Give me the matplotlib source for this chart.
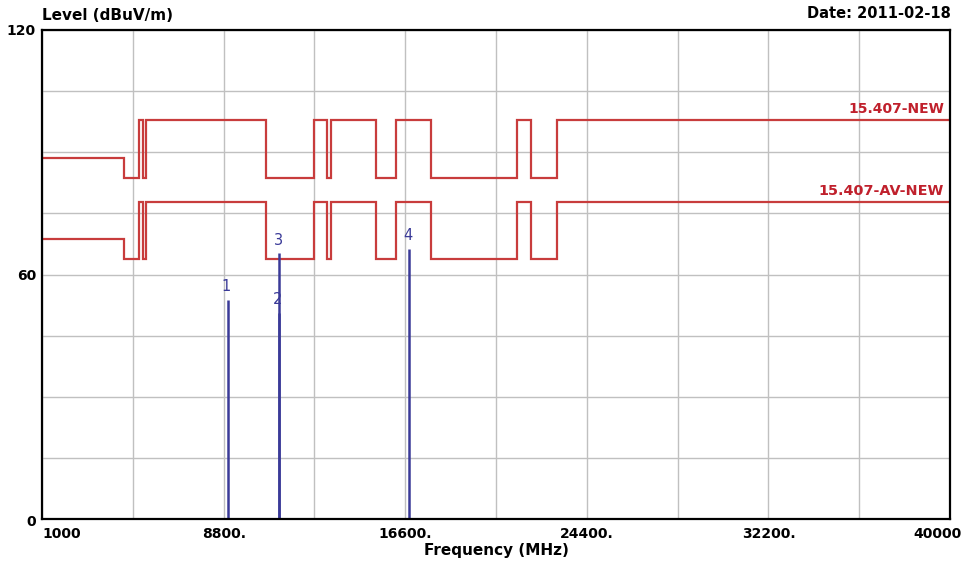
import numpy as np
import matplotlib
matplotlib.use("Agg")
import matplotlib.pyplot as plt
from matplotlib.transforms import blended_transform_factory

# limit line break points (MHz) and levels (dBuV/m), one level per segment
limit_edges = [1000, 4500, 5150, 5350, 5460, 10600, 12700, 13250, 13400,
               15350, 16200, 17700, 21400, 22010, 23120, 40000]
peak_levels = [88.7, 83.8, 97.9, 83.8, 97.9, 83.8, 97.9, 83.8, 97.9,
               83.8, 97.9, 83.8, 97.9, 83.8, 97.9]
avg_levels = [68.7, 63.8, 77.9, 63.8, 77.9, 63.8, 77.9, 63.8, 77.9,
              63.8, 77.9, 63.8, 77.9, 63.8, 77.9]

# measured emissions
marker_ids = ["1", "2", "3", "4"]
marker_freq = [8967, 11180, 11180, 16763]
marker_level = [53.9, 50.6, 65.2, 66.4]

x_tick_vals = [1000, 8800, 16600, 24400, 32200, 40000]
x_tick_text = ["1000", "8800.", "16600.", "24400.", "32200.", "40000"]
y_tick_vals = [0, 60, 120]

line_red = "#c83c3c"
text_red = "#c0202c"
marker_blue = "#3a3a98"

plt.rcParams["font.family"] = "DejaVu Sans"

fig = plt.figure(figsize=(9.66, 5.69), dpi=100)
ax = fig.add_axes([0.0435, 0.0873, 0.94, 0.86])

ax.set_xlim(1000, 40000)
ax.set_ylim(0, 120)

# grid: 10 columns, 8 rows
ax.set_xticks(np.linspace(1000, 40000, 11))
ax.set_yticks(np.linspace(0, 120, 9))
ax.grid(True, color="#c0c0c0", linewidth=1.0)
ax.set_axisbelow(True)
ax.tick_params(length=0, labelbottom=False, labelleft=False)
for sp in ax.spines.values():
    sp.set_linewidth(1.6)
    sp.set_color("black")

# limit lines
ax.stairs(peak_levels, limit_edges, color=line_red, linewidth=1.6, baseline=None)
ax.stairs(avg_levels, limit_edges, color=line_red, linewidth=1.6, baseline=None)

ax.annotate("15.407-NEW", xy=(limit_edges[-1], peak_levels[-1]),
            xytext=(-6, 11), textcoords="offset pixels", ha="right", va="center",
            color=text_red, fontsize=10, fontweight="bold")
ax.annotate("15.407-AV-NEW", xy=(limit_edges[-1], avg_levels[-1]),
            xytext=(-6, 11), textcoords="offset pixels", ha="right", va="center",
            color=text_red, fontsize=10.4, fontweight="bold")

# emission markers
ax.vlines(marker_freq, 0, marker_level, color=marker_blue, linewidth=1.8)
for mid, f, lv in zip(marker_ids, marker_freq, marker_level):
    ax.annotate(mid, xy=(f, lv), xytext=(-1, 13), textcoords="offset pixels",
                ha="center", va="center", color=marker_blue, fontsize=10.5)

# axis labels
tb = blended_transform_factory(ax.transData, ax.transAxes)
for i, (v, s) in enumerate(zip(x_tick_vals, x_tick_text)):
    if i == 0:
        ax.text(v, -0.03, s, transform=tb, ha="left", va="center",
                fontsize=10, fontweight="bold")
    elif i == len(x_tick_vals) - 1:
        ax.annotate(s, xy=(v, -0.03), xycoords=tb, xytext=(12, 0),
                    textcoords="offset pixels", ha="right", va="center",
                    fontsize=10, fontweight="bold")
    else:
        ax.text(v, -0.03, s, transform=tb, ha="center", va="center",
                fontsize=10, fontweight="bold")

ty = blended_transform_factory(ax.transAxes, ax.transData)
for v in y_tick_vals:
    ax.annotate(str(v), xy=(0, v), xycoords=ty, xytext=(-6, -1 if v else -3),
                textcoords="offset pixels", ha="right", va="center",
                fontsize=10, fontweight="bold")

fig.text(42 / 966, 1 - 15 / 569, "Level (dBuV/m)", ha="left", va="center",
         fontsize=11, fontweight="bold")
fig.text(951 / 966, 1 - 14 / 569, "Date: 2011-02-18", ha="right", va="center",
         fontsize=10.5, fontweight="bold")
ax.set_xlabel("Frequency (MHz)", fontsize=11, fontweight="bold", labelpad=17)

fig.savefig("out.png", dpi=100)
